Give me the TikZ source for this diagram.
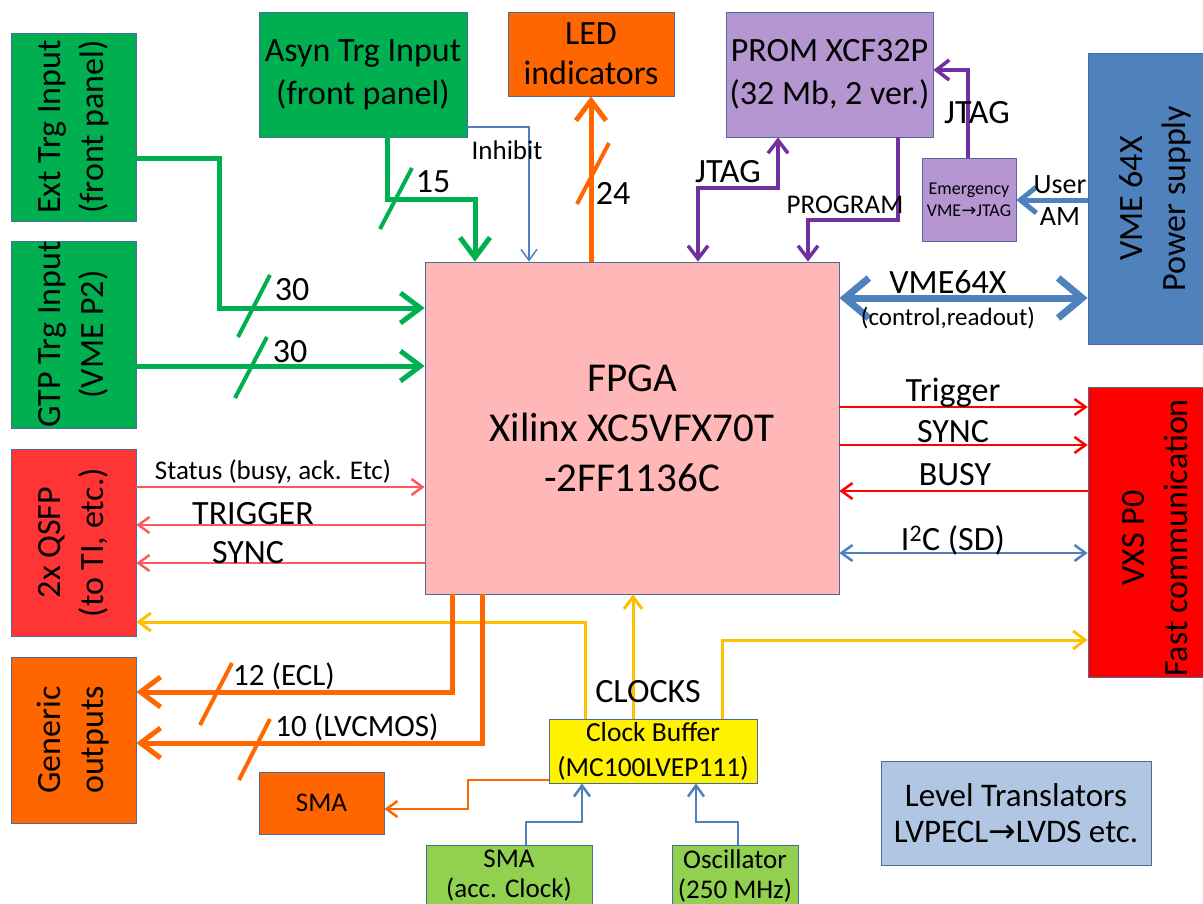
\documentclass[tikz,border=0pt]{standalone}
\usepackage{fontspec}
\setmainfont{Carlito}
\newfontfamily\arrowfont{DejaVu Sans}
\usetikzlibrary{arrows.meta,calc,positioning}

\definecolor{edgeblue}{HTML}{4A6C9B}
\definecolor{cgreen}{HTML}{00B050}
\definecolor{corange}{HTML}{FF6600}
\definecolor{cpurple}{HTML}{7030A0}
\definecolor{cblue}{HTML}{4F81BD}
\definecolor{cred}{HTML}{FF0000}
\definecolor{clred}{HTML}{FF5858}
\definecolor{cyellow}{HTML}{FFC000}
\definecolor{fpink}{HTML}{FFB7B7}
\definecolor{fpurple}{HTML}{B696D0}
\definecolor{fqsfp}{HTML}{FF3535}
\definecolor{flgreen}{HTML}{92D050}
\definecolor{flblue}{HTML}{B0C6E3}

\begin{document}
\begin{tikzpicture}[x=1pt,y=-1pt,
    box/.style={draw=edgeblue,line width=0.8pt,inner sep=0pt,align=center,font=\fontsize{34}{43}\selectfont},
    vtext/.style={rotate=90,align=center,inner sep=0pt,font=\fontsize{34}{43}\selectfont},
    lab/.style={inner sep=0pt,font=\fontsize{34}{40}\selectfont},
    small/.style={inner sep=0pt,font=\fontsize{27}{32}\selectfont},
    bus/.style={line width=5pt,-{Straight Barb[length=20pt,width=30pt]}},
    jtag/.style={line width=3.5pt,cpurple,-{Straight Barb[length=13pt,width=20pt]}},
    sig/.style={line width=2.5pt,-{Straight Barb[length=11pt,width=16pt]}},
    clk/.style={line width=3pt,cyellow,-{Straight Barb[length=12pt,width=18pt]}},
    tick/.style={line width=4pt}]
  \useasboundingbox (0,0) rectangle (1203,903);

  % boxes
  \node[box,fill=cgreen,minimum width=125,minimum height=188,
        label={[vtext]center:{Ext Trg Input\\(front panel)}}] (ext_in) at (73.5,127) {};
  \node[box,fill=cgreen,minimum width=125,minimum height=187,
        label={[vtext]center:{GTP Trg Input\\(VME P2)}}] (gtp_in) at (73.5,334.5) {};
  \node[box,fill=cgreen,minimum width=208,minimum height=125] (asyn_in) at (363,74.5) {Asyn Trg Input\\(front panel)};
  \node[box,fill=corange,minimum width=166,minimum height=84,font=\fontsize{34}{40}\selectfont] (led) at (591,54) {LED\\indicators};
  \node[box,fill=fpurple,minimum width=207,minimum height=125] (prom) at (829.5,74.5) {PROM XCF32P\\(32 Mb, 2 ver.)};
  \node[box,fill=fpurple,minimum width=94,minimum height=83,font=\fontsize{18}{22}\selectfont] (emerg) at (969,199.5) {Emergency\\VME{\arrowfont→}JTAG};
  \node[box,fill=cblue,minimum width=134,minimum height=291,
        label={[vtext]center:{VME 64X\\Power supply}}] (vme_ps) at (1155,198.5) {};
  \node[box,fill=fpink,minimum width=414,minimum height=332,font=\fontsize{41}{50}\selectfont] (fpga) at (632,428) {FPGA\\Xilinx XC5VFX70T\\-2FF1136C};
  \node[box,fill=cred,minimum width=134,minimum height=290,
        label={[vtext,xshift=-6]center:{VXS P0\\Fast communication}}] (vxs) at (1155,532) {};
  \node[box,fill=fqsfp,minimum width=125,minimum height=187,
        label={[vtext]center:{2x QSFP\\(to TI, etc.)}}] (qsfp) at (73.5,542.5) {};
  \node[box,fill=corange,minimum width=125,minimum height=166,
        label={[vtext]center:{Generic\\outputs}}] (gen_out) at (73.5,740) {};
  \node[box,fill=corange,minimum width=125,minimum height=62,font=\fontsize{27}{32}\selectfont] (sma_out) at (321.5,803) {SMA};
  \node[box,fill=yellow,minimum width=208,minimum height=64,font=\fontsize{27.5}{35}\selectfont] (clkbuf) at (653,751) {Clock Buffer\\(MC100LVEP111)};
  \node[box,fill=flgreen,minimum width=166,minimum height=62,font=\fontsize{27}{30}\selectfont] (sma_in) at (509,876) {SMA\\(acc. Clock)};
  \node[box,fill=flgreen,minimum width=126,minimum height=62,font=\fontsize{27}{30}\selectfont] (osc) at (735,876) {Oscillator\\(250 MHz)};
  \node[box,fill=flblue,minimum width=270,minimum height=104,font=\fontsize{33}{36}\selectfont] (lvl) at (1016,813) {Level Translators\\LVPECL{\arrowfont→}LVDS etc.};

  % trigger inputs
  \draw[bus,cgreen] (ext_in.east |- 0,158) -| (219,308) -- (fpga.west |- 0,308);
  \draw[bus,cgreen] (gtp_in.east |- 0,366) -- (fpga.west |- 0,366);
  \draw[bus,cgreen] (asyn_in.south -| 387,0) |- (475,199) -- (fpga.north -| 475,0);
  \draw[sig,line width=1.5pt,cblue] (asyn_in.east |- 0,127) -| (fpga.north -| 529,0);
  \draw[tick,cgreen] (238,337) -- (270,275);
  \draw[tick,cgreen] (235,398) -- (267,337);
  \draw[tick,cgreen] (380,229) -- (412,168);
  \node[lab] (l_ext) at (292,290) {30};
  \node[lab] (l_gtp) at (290,352) {30};
  \node[lab] (l_asyn) at (433,182) {15};
  \node[small] (l_inh) at (507,150) {Inhibit};

  % LED, PROM, VME
  \draw[bus,corange] (fpga.north -| 591,0) -- (led.south);
  \draw[tick,corange] (577,204) -- (609,143);
  \node[lab] (l_led) at (613,193) {24};
  \draw[jtag,{Straight Barb[length=13pt,width=20pt]}-{Straight Barb[length=13pt,width=20pt]}]
    (fpga.north -| 698,0) |- (778,188) -- (prom.south -| 778,0);
  \draw[jtag] (prom.south -| 898,0) |- (808,220) -- (fpga.north -| 808,0);
  \draw[jtag] (emerg.north -| 968,0) |- (prom.east |- 0,70);
  \node[lab] (l_jtag) at (728,172) {JTAG};
  \node[small] (l_prog) at (845,205) {PROGRAM};
  \node[lab] (l_jtag2) at (977,113) {JTAG};
  \draw[line width=5pt,cblue,-{Straight Barb[length=16pt,width=26pt]}] (vme_ps.west |- 0,200) -- (emerg.east |- 0,200);
  \node[lab,font=\fontsize{28}{32}\selectfont] (l_user) at (1060,185) {User};
  \node[lab,font=\fontsize{28}{32}\selectfont] (l_am) at (1060,217) {AM};
  \draw[line width=7pt,cblue,{Straight Barb[length=24pt,width=40pt]}-{Straight Barb[length=24pt,width=40pt]}]
    (fpga.east |- 0,298) -- (vme_ps.west |- 0,298);
  \node[lab] (l_vme) at (948,282) {VME64X};
  \node[small,font=\fontsize{25}{30}\selectfont] (l_ctrl) at (948,318) {(control,readout)};

  % VXS P0
  \draw[sig,cred] (fpga.east |- 0,407) -- (vxs.west |- 0,407);
  \draw[sig,cred] (fpga.east |- 0,445) -- (vxs.west |- 0,445);
  \draw[sig,cred] (vxs.west |- 0,491) -- (fpga.east |- 0,491);
  \draw[sig,cblue,{Straight Barb[length=11pt,width=16pt]}-{Straight Barb[length=11pt,width=16pt]}]
    (fpga.east |- 0,553) -- (vxs.west |- 0,553);
  \node[lab] (l_trg) at (953,393) {Trigger};
  \node[lab] (l_sync) at (953,432) {SYNC};
  \node[lab] (l_busy) at (955,475) {BUSY};
  \node[lab] (l_i2c) at (953,540) {I\textsuperscript{2}C (SD)};

  % QSFP
  \draw[sig,clred] (qsfp.east |- 0,487) -- (fpga.west |- 0,487);
  \draw[sig,clred] (fpga.west |- 0,525) -- (qsfp.east |- 0,525);
  \draw[sig,clred] (fpga.west |- 0,563) -- (qsfp.east |- 0,563);
  \node[small] (l_stat) at (273,472) {Status (busy, ack. Etc)};
  \node[lab] (l_trg2) at (253,514) {TRIGGER};
  \node[lab] (l_sync2) at (248,553) {SYNC};

  % clocks
  \draw[clk] (clkbuf.north -| 585,0) |- (qsfp.east |- 0,622);
  \draw[clk] (clkbuf.north -| 633,0) -- (fpga.south -| 633,0);
  \draw[clk] (clkbuf.north -| 722,0) |- (vxs.west |- 0,640);
  \node[lab] (l_clk) at (648,692) {CLOCKS};
  \draw[sig,cblue] (sma_in.north -| 526,0) |- (582,822) -- (clkbuf.south -| 582,0);
  \draw[sig,cblue] (osc.north -| 738,0) |- (696,822) -- (clkbuf.south -| 696,0);
  \draw[sig,corange] (clkbuf.west |- 0,780) -| (468,809) -- (sma_out.east |- 0,809);

  % generic outputs
  \draw[bus,corange] (fpga.south -| 452,0) |- (gen_out.east |- 0,692);
  \draw[bus,corange] (fpga.south -| 482,0) |- (gen_out.east |- 0,743);
  \draw[tick,corange] (200,725) -- (232,663);
  \draw[tick,corange] (239,780) -- (270,719);
  \node[lab,font=\fontsize{31}{36}\selectfont] (l_ecl) at (284,676) {12 (ECL)};
  \node[lab,font=\fontsize{31}{36}\selectfont] (l_cmos) at (357,727) {10 (LVCMOS)};
\end{tikzpicture}
\end{document}
